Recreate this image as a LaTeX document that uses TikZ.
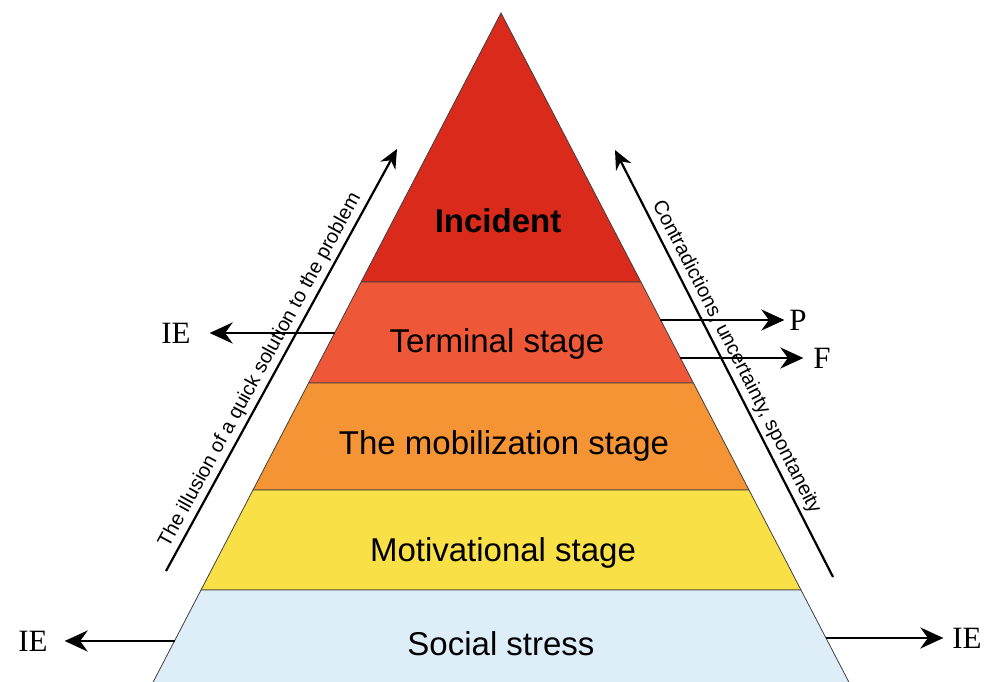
\documentclass[tikz,border=0pt]{standalone}
\usepackage{fontspec}
\setmainfont{Liberation Serif}
\setsansfont{Liberation Sans}
\usetikzlibrary{arrows.meta}

\definecolor{incidentred}{HTML}{DA2A1B}
\definecolor{terminalred}{HTML}{EE5839}
\definecolor{mobilorange}{HTML}{F49434}
\definecolor{motivyellow}{HTML}{F9E047}
\definecolor{stressblue}{HTML}{DDEEF9}

\begin{document}
\begin{tikzpicture}[x=1pt, y=-1pt,
  band/.style={draw=black!75, line width=0.8pt},
  stagetext/.style={font=\sffamily\fontsize{33}{40}\selectfont, anchor=base},
  sidetext/.style={font=\sffamily\fontsize{20}{24}\selectfont, sloped, above},
  outtext/.style={font=\fontsize{31}{36}\selectfont, inner sep=0pt},
  outarrow/.style={-{Stealth[length=23pt,width=21pt]}, line width=2.8pt},
  trendarrow/.style={-{Stealth[length=19pt,width=17pt]}, line width=2.2pt}]
\useasboundingbox (0,0) rectangle (991,682);
\clip (0,0) rectangle (991,682);

% bands, top to bottom (edge slope 0.52)
\draw[band, fill=incidentred] (501,13)--(640.9,282)--(361.1,282)--cycle;
\draw[band, fill=terminalred] (361.1,282)--(640.9,282)--(693.4,383)--(308.6,383)--cycle;
\draw[band, fill=mobilorange] (308.6,383)--(693.4,383)--(749,490)--(253,490)--cycle;
\draw[band, fill=motivyellow] (253,490)--(749,490)--(801,590)--(201,590)--cycle;
\draw[band, fill=stressblue] (201,590)--(801,590)--(858.2,700)--(143.8,700)--cycle;

\node[stagetext, font=\sffamily\bfseries\fontsize{33}{40}\selectfont] (incident) at (498,232) {Incident};
\node[stagetext] (terminal) at (497,352) {Terminal stage};
\node[stagetext] (mobilization) at (504,454) {The mobilization stage};
\node[stagetext] (motivational) at (503,561) {Motivational stage};
\node[stagetext] (stress) at (501,655) {Social stress};

% exits from the pyramid
\coordinate (termL) at (335,333);
\coordinate (termP) at (660,320);
\coordinate (termF) at (680,358);
\coordinate (stressL) at (175,641);
\coordinate (stressR) at (826,638);
\node[outtext, outer xsep=19pt] (ieterm) at (176,333) {IE};
\node[outtext, outer xsep=17pt] (iestressL) at (33,641) {IE};
\node[outtext, outer xsep=9pt] (iestressR) at (967,638) {IE};
\node[outtext, outer xsep=5pt] (pout) at (798,320) {P};
\node[outtext, outer xsep=10pt] (fout) at (822,358) {F};
\draw[outarrow] (termL) -- (ieterm);
\draw[outarrow] (termP) -- (pout);
\draw[outarrow] (termF) -- (fout);
\draw[outarrow] (stressL) -- (iestressL);
\draw[outarrow] (stressR) -- (iestressR);

% long arrows along the sides
\coordinate (leftlow) at (166,571);
\coordinate (lefthigh) at (397,149);
\coordinate (rightlow) at (833,577);
\coordinate (righthigh) at (615,150);
\draw[trendarrow] (leftlow) -- (lefthigh)
  node[sidetext, pos=0.46] (illusion) {The illusion of a quick solution to the problem};
\draw[trendarrow] (rightlow) -- (righthigh)
  node[sidetext, pos=0.5] (contra) {Contradictions, uncertainty, spontaneity};
\end{tikzpicture}
\end{document}
